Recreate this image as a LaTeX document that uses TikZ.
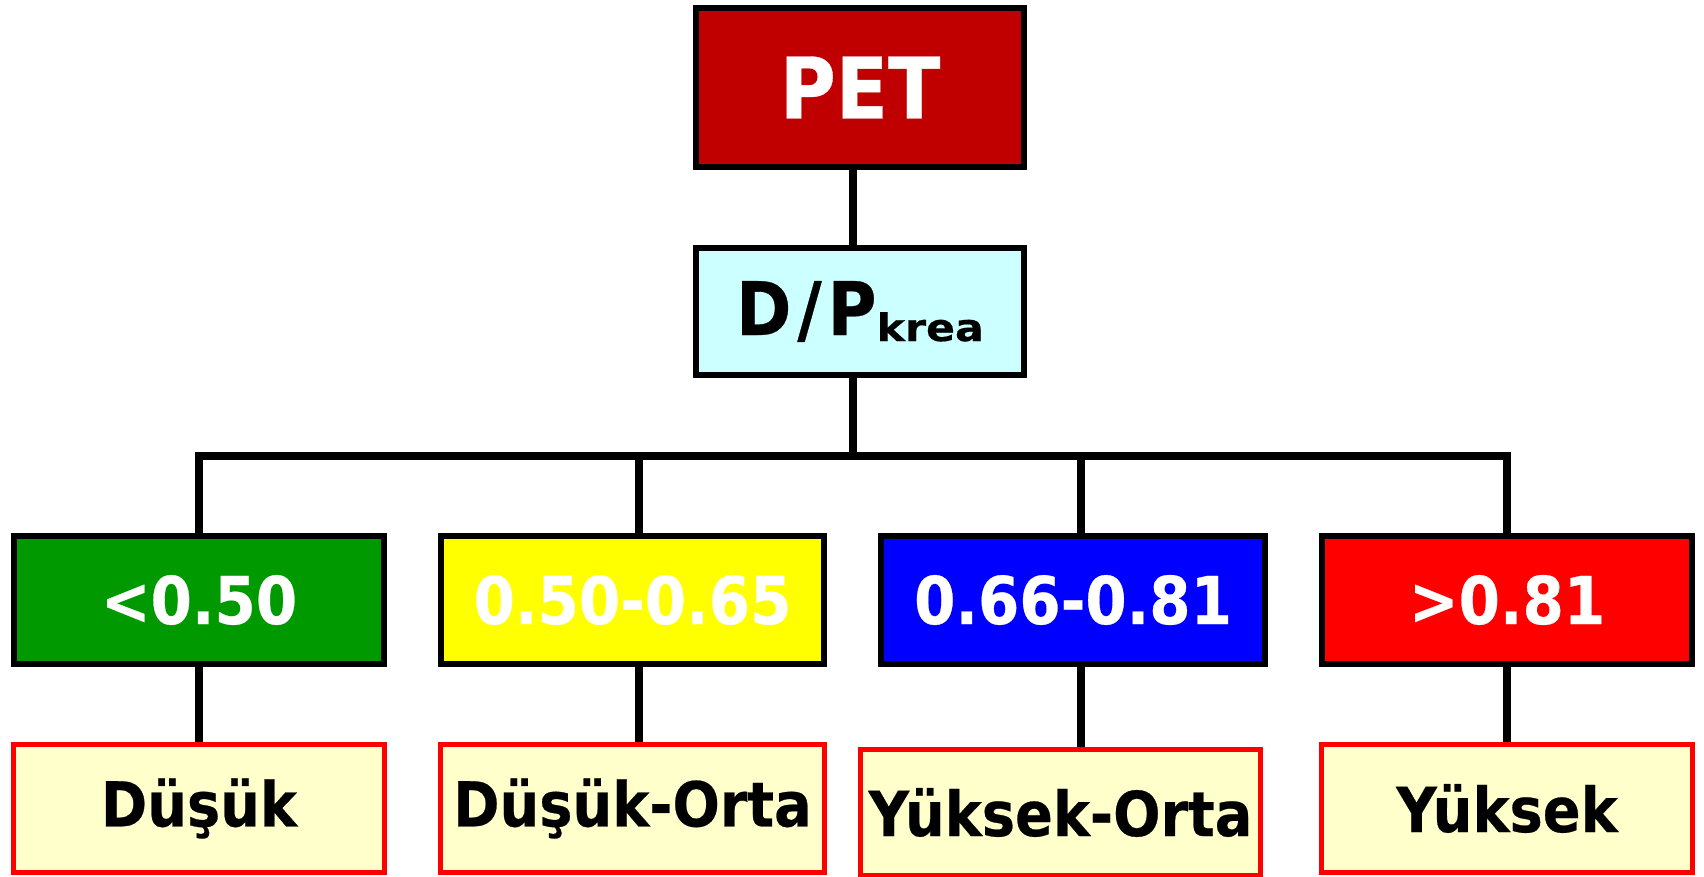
\documentclass[tikz,border=0pt]{standalone}
\usepackage{fontspec}
\setmainfont{DejaVu Sans}[FakeStretch=0.9, BoldFeatures={FakeBold=0.4}]
\usetikzlibrary{backgrounds}
\definecolor{petred}{HTML}{C00000}
\definecolor{dpcyan}{HTML}{CCFFFF}
\definecolor{lgreen}{HTML}{009900}
\definecolor{lyellow}{HTML}{FFFF00}
\definecolor{lblue}{HTML}{0000FF}
\definecolor{lred}{HTML}{FF0000}
\definecolor{resfill}{HTML}{FFFFCC}
\begin{document}
\begin{tikzpicture}[x=1pt,y=-1pt,
  box/.style={rectangle, draw=black, line width=5.5pt, inner sep=0pt, outer sep=0pt},
  lvl/.style={box, minimum height=128pt, text=white, font=\bfseries\fontsize{66}{70}\selectfont},
  res/.style={rectangle, draw=lred, line width=5pt, fill=resfill, minimum height=128pt, inner sep=0pt, outer sep=0pt, text=black, font=\bfseries\fontsize{62}{66}\selectfont},
  conn/.style={line width=7.5pt, draw=black}]
\useasboundingbox (0,0) rectangle (1704,876);
% top boxes
\node[box, fill=petred, text=white, minimum width=328pt, minimum height=159pt, font=\bfseries\fontsize{85}{90}\selectfont] (pet) at (860,87.5) {PET};
\node[box, fill=dpcyan, text=black, minimum width=328pt, minimum height=127pt, font=\bfseries\fontsize{74}{80}\selectfont] (dp) at (860,311.5) {D\hspace{6pt}/\hspace{6pt}P{\fontsize{38}{40}\selectfont\raisebox{-6pt}{\scalebox{1.25}[1]{krea}}}};
% level 3
\node[lvl, fill=lgreen, minimum width=370pt] (l1) at (199,600) {<0.50};
\node[lvl, fill=lyellow, minimum width=383pt] (l2) at (632.5,600) {0.50-0.65};
\node[lvl, fill=lblue, minimum width=384pt] (l3) at (1073,600) {0.66-0.81};
\node[lvl, fill=lred, minimum width=370pt] (l4) at (1507,600) {>0.81};
% level 4
\node[res, minimum width=371pt] (r1) at (199,808.5) {Düşük};
\node[res, minimum width=384pt] (r2) at (632.5,808.5) {Düşük-Orta};
\node[res, minimum width=400pt, minimum height=126pt] (r3) at (1060.5,812.5) {Yüksek-Orta};
\node[res, minimum width=371pt] (r4) at (1507,808.5) {Yüksek};
% junctions
\coordinate (j0) at (853,456);
\coordinate (t1) at (199,456);
\coordinate (t2) at (639,456);
\coordinate (t3) at (1081,456);
\coordinate (t4) at (1507,456);
\begin{scope}[on background layer]
\draw[conn] (j0 |- pet.south) -- (j0 |- dp.north);
\draw[conn] (j0 |- dp.south) -- (j0);
\draw[conn] (t1 |- l1.north) -- (t1) -- (t4) -- (t4 |- l4.north);
\draw[conn] (t2) -- (t2 |- l2.north);
\draw[conn] (t3) -- (t3 |- l3.north);
\draw[conn] (t1 |- l1.south) -- (t1 |- r1.north);
\draw[conn] (t2 |- l2.south) -- (t2 |- r2.north);
\draw[conn] (t3 |- l3.south) -- ([yshift=-6pt]t3 |- r3.north);
\draw[conn] (t4 |- l4.south) -- (t4 |- r4.north);
\end{scope}
\end{tikzpicture}
\end{document}
